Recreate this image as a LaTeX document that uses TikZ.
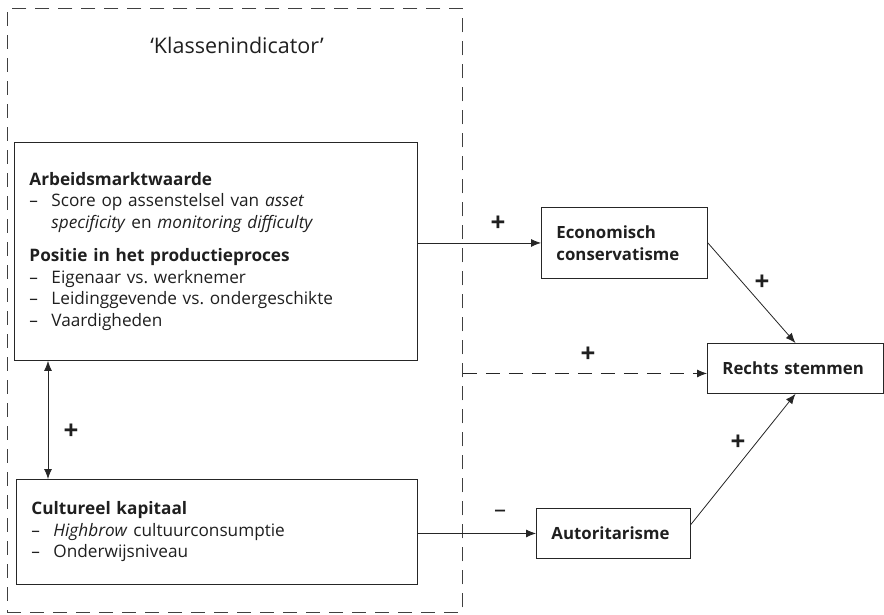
\documentclass[tikz,border=0pt]{standalone}
\usepackage{fontspec}
\setmainfont{Open Sans}
\usetikzlibrary{arrows.meta}

\newcommand{\itm}{\makebox[22pt][l]{–}}
\newcommand{\itmgap}{\hspace*{22pt}}
\frenchspacing

\begin{document}
\begin{tikzpicture}[
        x = 1pt, y = -1pt,
        every node/.style = {font = \fontsize{17.2}{21.5}\selectfont, text = black!88},
        box/.style = {draw = black!85, line width = 0.9pt, rectangle, anchor = north west,
                      inner xsep = 15pt, inner ysep = 0pt, align = left},
        frame/.style = {draw = black!75, line width = 0.8pt, dash pattern = on 14pt off 9pt,
                        rectangle, anchor = north west, inner sep = 0pt},
        sign/.style = {font = \fontsize{26}{28}\selectfont\bfseries, inner sep = 0pt},
        link/.style = {draw = black!85, line width = 0.8pt, -{Latex[length = 10pt, width = 8pt]}},
        dlink/.style = {link, dash pattern = on 14pt off 9pt}
    ]
    \useasboundingbox (0,0) rectangle (884,614);

    % klassenindicator
    \node[frame, minimum width = 455pt, minimum height = 604pt] (klasse) at (7,8) {};
    \node[font = \fontsize{21.5}{24}\selectfont] (kititle) at (237,45) {‘Klassenindicator’};

    \node[box, minimum width = 403pt, minimum height = 218pt, text width = 373pt] (arbeid) at (14,142)
        {\textbf{Arbeidsmarktwaarde}\\
         \itm Score op assenstelsel van \textit{asset}\\
         \itmgap\textit{specificity} en \textit{monitoring difficulty}\\[12pt]
         \textbf{Positie in het productieproces}\\
         \itm Eigenaar vs. werknemer\\
         \itm Leidinggevende vs. ondergeschikte\\
         \itm Vaardigheden};
    \node[box, minimum width = 401pt, minimum height = 105pt, text width = 371pt] (cultuur) at (16,479)
        {\textbf{Cultureel kapitaal}\\
         \itm\textit{Highbrow} cultuurconsumptie\\
         \itm Onderwijsniveau};

    % attitudes en stemgedrag
    \node[box, minimum width = 166pt, minimum height = 71pt, text width = 136pt, font = \fontsize{16.8}{21.5}\selectfont\bfseries] (econ) at (541,207)
        {Economisch\\conservatisme};
    \node[box, minimum width = 176pt, minimum height = 50pt, text width = 146pt, font = \fontsize{16.8}{21.5}\selectfont\bfseries] (rechts) at (707,343)
        {Rechts stemmen};
    \node[box, minimum width = 154pt, minimum height = 50pt, text width = 124pt, font = \fontsize{16.8}{21.5}\selectfont\bfseries] (autor) at (536,508)
        {Autoritarisme};

    % pijlen
    \draw[link, {Latex[length = 10pt, width = 8pt]}-{Latex[length = 10pt, width = 8pt]}]
        ([xshift = 34pt]arbeid.south west) -- ([xshift = 34pt]arbeid.south west |- cultuur.north);
    \draw[link] (econ.west -| arbeid.east) -- (econ.west);
    \draw[link] (econ.east) -- (rechts.north);
    \draw[link] (autor.west -| cultuur.east) -- (autor.west);
    \draw[link] ([yshift = 9pt]autor.east) -- (rechts.south);
    \draw[dlink] ([yshift = -5pt]rechts.west -| klasse.east) -- ([yshift = -5pt]rechts.west);

    % tekens
    \node[sign] (s1) at (71,432) {+};
    \node[sign] (s2) at (498,224) {+};
    \node[sign] (s3) at (762,283) {+};
    \node[sign] (s4) at (588,355) {+};
    \node[sign] (s5) at (738,443) {+};
    \node[sign, font = \fontsize{24}{26}\selectfont] (s6) at (500,514) {–};
\end{tikzpicture}
\end{document}
